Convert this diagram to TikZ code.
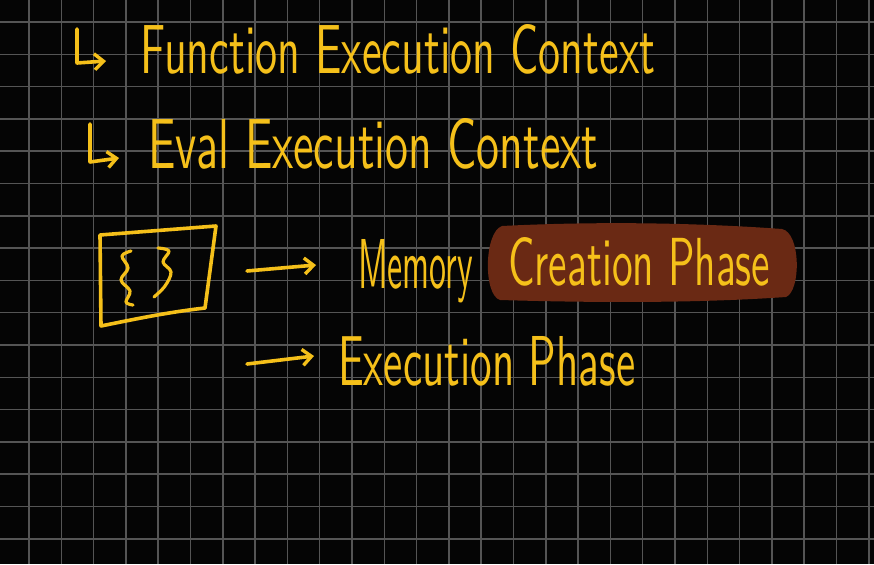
\documentclass[tikz,border=0pt]{standalone}
\usetikzlibrary{arrows.meta}
\usepackage{graphicx}
\definecolor{bg}{HTML}{050505}
\definecolor{gridc}{HTML}{555555}
\definecolor{yel}{HTML}{F5C01A}
\definecolor{brn}{HTML}{6A2914}
\newcommand{\hwtext}[3]{\resizebox{#1}{#2}{\sffamily #3}}
\begin{document}
\begin{tikzpicture}[x=1pt,y=-1pt,
  hw/.style={text=yel, inner sep=0pt, anchor=base west},
  pen/.style={draw=yel, line width=3.6pt, line cap=round, line join=round},
  arr/.style={pen, -{Straight Barb[length=9pt,width=16pt,line width=3.4pt]}},
  gridline/.style={draw=gridc, line width=1.5pt}]
\useasboundingbox (0,0) rectangle (874,564);
\fill[bg] (0,0) rectangle (874,564);
% grid
\foreach \k in {0,...,26} {\draw[gridline] ({29+32.3*\k},0) -- ({29+32.3*\k},564);}
\foreach \k in {0,...,16} {\draw[gridline] (0,{22+32.3*\k}) -- (874,{22+32.3*\k});}
% highlight
\fill[brn] (502,226) .. controls (600,221) and (700,223) .. (782,229)
  .. controls (801,233) and (801,291) .. (786,297)
  .. controls (700,303) and (600,303) .. (500,300)
  .. controls (483,295) and (484,232) .. (502,226) -- cycle;
% bullets
\draw[arr] (77,29) -- (77,63) -- (106,61);
\draw[arr] (90,124) -- (90,162) -- (119,158);
% text lines
\node[hw] (fec) at (140,74) {\hwtext{515pt}{49pt}{Function Execution Context}};
\node[hw] (eec) at (148,168) {\hwtext{450pt}{50pt}{Eval Execution Context}};
% box
\draw[pen] (100,235) -- (216,226) -- (205,308)
  .. controls (170,312) and (140,318) .. (101,326) -- cycle;
\coordinate (box) at (146,275);
\draw[pen, line width=3.2pt] plot[smooth, tension=0.6] coordinates
  {(131,251) (122,256) (128,268) (121,280) (130,291) (126,302) (133,305)};
\draw[pen, line width=3.2pt] plot[smooth, tension=0.6] coordinates
  {(158,248) (169,251) (163,262) (171,272) (165,286) (154,297)};
% targets
\node[hw] (mem) at (358,288) {\hwtext{115pt}{49pt}{Memory}};
\node[hw] (cre) at (508,285) {\hwtext{262pt}{48pt}{Creation Phase}};
\node[hw] (exe) at (338,385) {\hwtext{297pt}{49pt}{Execution Phase}};
% connectors
\coordinate (a1s) at (247,271);
\coordinate (a1e) at (316,265);
\coordinate (a2s) at (247,364);
\coordinate (a2e) at (314,356);
\draw[arr] (a1s) -- (a1e);
\draw[arr] (a2s) -- (a2e);
\end{tikzpicture}
\end{document}
